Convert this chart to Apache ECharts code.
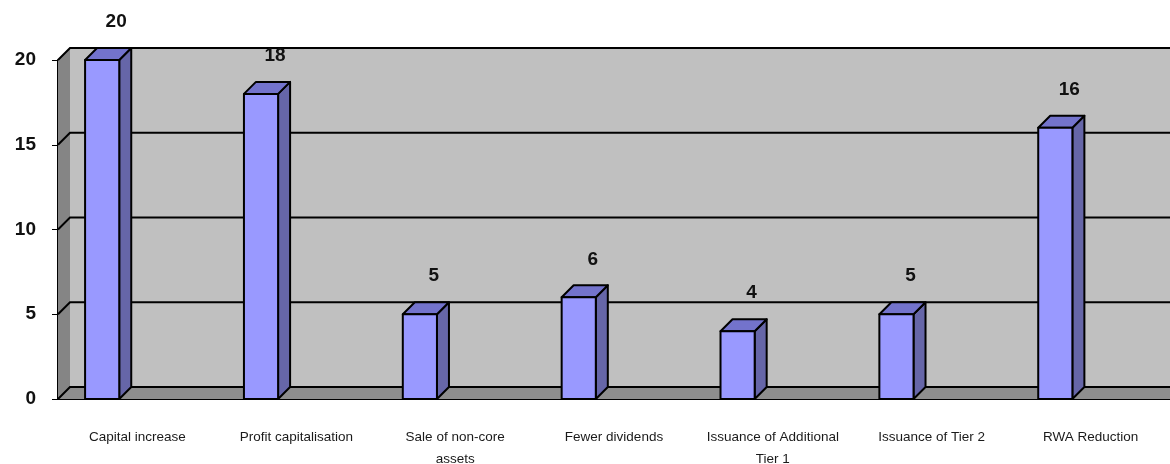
<!DOCTYPE html>
<html>
<head>
<meta charset="utf-8">
<script src="https://cdn.jsdelivr.net/npm/echarts@6/dist/echarts.min.js"></script>
<style>
  html, body { margin: 0; padding: 0; background: #fff; }
  #chart { width: 1170px; height: 464px; }
</style>
</head>
<body>
<div id="chart"></div>
<script>
const categories = [
  "Capital increase",
  "Profit capitalisation",
  "Sale of non-core\nassets",
  "Fewer dividends",
  "Issuance of Additional\nTier 1",
  "Issuance of Tier 2",
  "RWA Reduction",
];
const values = [20, 18, 5, 6, 4, 5, 16];
const yTicks = [0, 5, 10, 15, 20];

// 3d depth offset of the back plane
const DX = 12;
const DY = 12;

const renderWalls = (params, api) => {
  const cs = params.coordSys;
  const x0 = cs.x;
  const x1 = cs.x + cs.width;
  const yZero = api.coord([0, yTicks[0]])[1];
  const yTop = api.coord([0, yTicks[yTicks.length - 1]])[1];
  const children = [
    {
      type: "rect",
      shape: { x: x0 + DX, y: yTop - DY, width: x1 - x0 - DX, height: yZero - yTop },
      style: { fill: "#c0c0c0" },
    },
    {
      type: "polygon",
      shape: { points: [[x0, yTop], [x0 + DX, yTop - DY], [x0 + DX, yZero - DY], [x0, yZero]] },
      style: { fill: "#858585" },
    },
    {
      type: "polygon",
      shape: { points: [[x0, yZero], [x0 + DX, yZero - DY], [x1, yZero - DY], [x1, yZero]] },
      style: { fill: "#8e8e8e" },
    },
  ];
  yTicks.forEach((t) => {
    const y = api.coord([0, t])[1];
    children.push({
      type: "polyline",
      shape: { points: [[x0, y], [x0 + DX, y - DY], [x1, y - DY]] },
      style: { stroke: "#000", lineWidth: 2, fill: null },
    });
  });
  return { type: "group", children: children };
};

const renderBar = (params, api) => {
  const idx = api.value(0);
  const val = api.value(1);
  const base = api.coord([idx, 0]);
  const top = api.coord([idx, val]);
  const band = api.size([1, 0])[0];
  const w = band * 0.215;
  const cx = base[0] - band * 0.222;
  const x = cx - w / 2;
  const yT = top[1];
  const yB = base[1];
  const line = { stroke: "#000", lineWidth: 2, lineJoin: "round" };
  return {
    type: "group",
    children: [
      {
        type: "polygon",
        shape: { points: [[x + w, yT], [x + w + DX, yT - DY], [x + w + DX, yB - DY], [x + w, yB]] },
        style: Object.assign({ fill: "#6666a8" }, line),
      },
      {
        type: "polygon",
        shape: { points: [[x, yT], [x + DX, yT - DY], [x + w + DX, yT - DY], [x + w, yT]] },
        style: Object.assign({ fill: "#7373cc" }, line),
      },
      {
        type: "rect",
        shape: { x: x, y: yT, width: w, height: yB - yT },
        style: Object.assign({ fill: "#9999ff" }, line),
      },
      {
        type: "text",
        style: {
          text: String(val),
          x: cx + 14,
          y: yT - 38,
          align: "center",
          verticalAlign: "middle",
          fill: "#111",
          font: "bold 19px 'Liberation Sans'",
        },
      },
    ],
  };
};

const chart = echarts.init(document.getElementById("chart"));
chart.setOption({
  animation: false,
  backgroundColor: "#fff",
  grid: { left: 58, right: 0, top: 60, bottom: 65, outerBoundsMode: "none" },
  xAxis: {
    type: "category",
    data: categories,
    axisLine: { lineStyle: { color: "#000", width: 2 } },
    axisTick: { length: 7, lineStyle: { color: "#000", width: 1 } },
    axisLabel: {
      interval: 0,
      margin: 27,
      lineHeight: 22,
      fontSize: 13.5,
      fontFamily: "Liberation Sans",
      color: "#1a1a1a",
    },
  },
  yAxis: {
    type: "value",
    min: 0,
    max: 20,
    interval: 5,
    axisLine: { show: true, lineStyle: { color: "#000", width: 2 } },
    axisTick: { show: true, length: 6, lineStyle: { color: "#000", width: 1 } },
    axisLabel: {
      margin: 22,
      fontSize: 19,
      fontWeight: "bold",
      fontFamily: "Liberation Sans",
      color: "#111",
    },
    splitLine: { show: false },
  },
  series: [
    {
      type: "custom",
      silent: true,
      z: 1,
      renderItem: renderWalls,
      data: [[0, 0]],
    },
    {
      type: "custom",
      z: 3,
      renderItem: renderBar,
      data: values.map((v, i) => [i, v]),
    },
  ],
});
</script>
</body>
</html>
